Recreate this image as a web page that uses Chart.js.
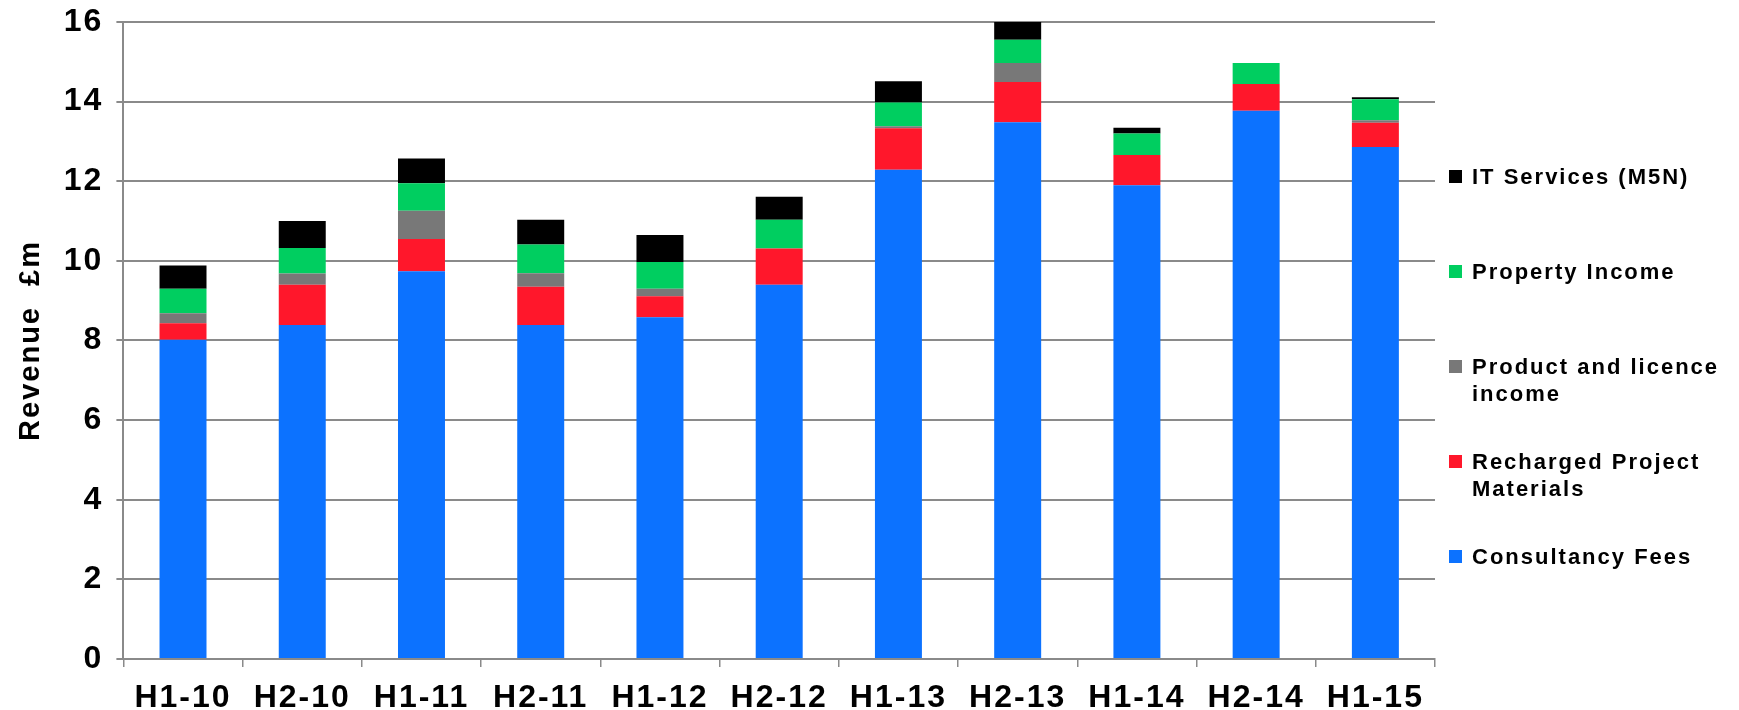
<!DOCTYPE html>
<html>
<head>
<meta charset="utf-8">
<script src="https://cdn.jsdelivr.net/npm/chart.js@4"></script>
<style>
  html,body{margin:0;padding:0;background:#fff;}
  #wrap{position:relative;width:1739px;height:710px;}
  #legend{position:absolute;left:1449px;top:0;width:290px;font-family:"Liberation Sans",Arial,sans-serif;font-weight:bold;font-size:22px;letter-spacing:2px;line-height:27px;color:#000;}
  #legend .item{position:absolute;left:0;display:flex;align-items:flex-start;}
  #legend .box{width:13px;height:13px;margin-top:7px;margin-right:10px;flex:none;}
  #legend .txt{width:258px;}
</style>
</head>
<body>
<div id="wrap">
  <canvas id="chart" width="1739" height="710"></canvas>
  <div id="legend"></div>
</div>
<script>
const periods = ['H1-10','H2-10','H1-11','H2-11','H1-12','H2-12','H1-13','H2-13','H1-14','H2-14','H1-15'];
const consultancyFees   = [8.02, 8.39, 9.74, 8.39, 8.58, 9.40, 12.29, 13.48, 11.90, 13.77, 12.86];
const rechargedMaterials = [0.41, 1.01, 0.81, 0.96, 0.53, 0.91, 1.04, 1.01, 0.76, 0.67, 0.61];
const productLicence    = [0.25, 0.28, 0.71, 0.34, 0.19, 0.00, 0.05, 0.48, 0.00, 0.00, 0.06];
const propertyIncome    = [0.62, 0.64, 0.69, 0.72, 0.67, 0.72, 0.60, 0.58, 0.54, 0.53, 0.53];
const itServices        = [0.58, 0.68, 0.62, 0.62, 0.68, 0.58, 0.53, 0.47, 0.14, 0.00, 0.05];
const yTicks = [0, 2, 4, 6, 8, 10, 12, 14, 16];

const series = [
  ['Consultancy Fees', consultancyFees, '#0c72ff'],
  ['Recharged Project Materials', rechargedMaterials, '#ff172b'],
  ['Product and licence income', productLicence, '#787878'],
  ['Property Income', propertyIncome, '#00ce60'],
  ['IT Services (M5N)', itServices, '#000000']
];

const font = 'Liberation Sans, Arial, sans-serif';
const grey = '#8a8a8a';

// the original lettering is wider than Liberation Sans, so space it out a bit
const spacing = {
  id: 'spacing',
  beforeLayout: c => { c.ctx.letterSpacing = '2px'; },
  beforeDraw: c => { c.ctx.letterSpacing = '2px'; }
};

new Chart(document.getElementById('chart'), {
  type: 'bar',
  plugins: [spacing],
  data: {
    labels: periods,
    datasets: series.map(([label, data, color]) => ({
      label, data, backgroundColor: color, borderWidth: 0,
      categoryPercentage: 1, barPercentage: 0.394
    }))
  },
  options: {
    responsive: false,
    animation: false,
    layout: {padding: {left: 14, right: 304, top: 0, bottom: -19}},
    plugins: {legend: {display: false}, tooltip: {enabled: false}},
    scales: {
      x: {
        stacked: true,
        grid: {display: true, drawOnChartArea: false, color: grey, lineWidth: 1.5, tickLength: 8},
        border: {color: grey, width: 2},
        // small lineHeight keeps the axis band short so labels sit near the bottom edge
        ticks: {color: '#000', font: {family: font, size: 32, weight: 'bold', lineHeight: 0.69}, padding: 20, maxRotation: 0}
      },
      y: {
        stacked: true,
        min: 0, max: 16,
        afterBuildTicks: s => { s.ticks = yTicks.map(v => ({value: v})); },
        grid: {color: grey, lineWidth: 2, tickLength: 7},
        border: {color: grey, width: 2},
        ticks: {color: '#000', font: {family: font, size: 32, weight: 'bold', lineHeight: 0.56}, padding: 13},
        title: {display: true, text: 'Revenue  £m', color: '#000',
          font: {family: font, size: 29, weight: 'bold', lineHeight: 1.2}, padding: {top: 0, bottom: 2}}
      }
    }
  }
});

// legend, top entry first
const legend = document.getElementById('legend');
series.slice().reverse().forEach(([label, , color], i) => {
  const item = document.createElement('div');
  item.className = 'item';
  item.style.top = (163 + i * 95) + 'px';
  item.innerHTML = `<span class="box" style="background:${color}"></span><span class="txt">${label}</span>`;
  legend.appendChild(item);
});
</script>
</body>
</html>
